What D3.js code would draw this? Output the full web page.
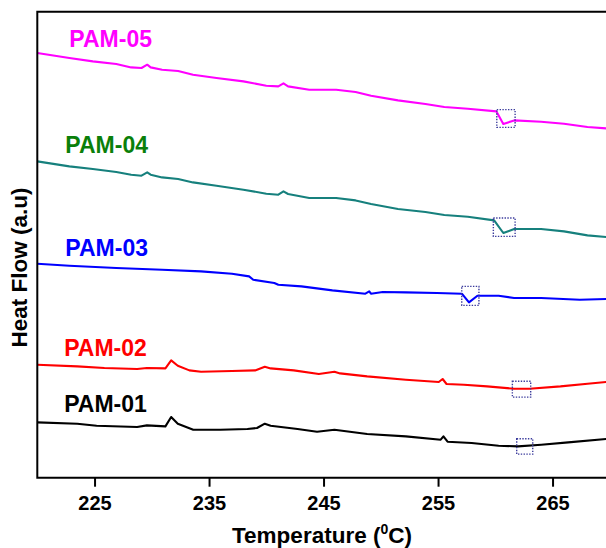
<!DOCTYPE html>
<html><head><meta charset="utf-8">
<script src="https://cdn.jsdelivr.net/npm/d3@7"></script>
<style>html,body{margin:0;padding:0;background:#fff;}svg{display:block;}</style>
</head><body><svg id="c" width="606" height="548"></svg>
<script>
// ---- data (Temperature °C, Heat Flow a.u.) ----
const xTicks = [225, 235, 245, 255, 265];
const seriesNames = ["PAM-01", "PAM-02", "PAM-03", "PAM-04", "PAM-05"];

const pam05T = [220.0,222.8,224.85,226.9,228.2,229.1,229.6,229.9,230.9,232.3,233.6,235.65,238.0,240.0,241.05,241.5,241.9,243.75,246.1,247.8,249.15,251.5,253.9,255.55,257.6,260.1,260.7,261.65,264.0,266.0,268.05,269.7,270];
const pam05V = [424.7,419.7,416.3,413.7,410.3,409.7,413,410.3,408,406.7,403,399.7,396.3,392,391.3,394.3,391.3,388,388,385.7,382,377.3,373.7,370.7,369,366.3,353.7,357.3,356,354,350.7,349.3,349];

const pam04T = [220.0,222.8,224.85,226.9,228.2,229.1,229.6,229.9,230.9,232.3,233.6,235.65,238.0,240.0,241.05,241.5,241.9,243.75,246.1,247.8,249.15,251.5,253.9,255.55,257.6,259.9,260.7,261.65,264.0,266.0,268.05,269.7,270];
const pam04V = [316.3,311.3,308.7,305.7,303,302,305.3,303,300.3,298.7,295.3,292,288,284,283,286.3,283.7,279.7,279.7,277.3,273.7,268.7,265.7,262.7,261,257.3,244.7,248.7,248.7,246.3,242.3,240.7,240.5];

const pam03T = [220.0,222.8,226.9,230.9,234.3,237.0,238.5,238.86,240.7,241.05,243.07,245.77,248.65,248.99,249.14,250.17,252.19,254.89,257.08,257.7,258.44,260.29,261.64,264.01,267.38,269.67,270];
const pam03V = [214,212,209.7,208,206.3,204,201.3,198,194.7,193,191.3,187.3,184,186.3,184,185.7,185.3,184.7,184,175.3,182,182,179.7,179.7,178,178.7,178.7];

const pam02T = [220.0,223.49,225.86,228.72,229.57,231.19,231.69,232.27,233.28,234.3,237.0,239.02,239.87,240.38,242.4,244.59,245.95,246.45,248.81,252.19,255.06,255.4,255.74,257.26,259.28,261.64,262.99,265.69,268.06,269.67,270];
const pam02V = [113,111.3,109.7,108.7,109.7,109.3,117.3,112,107.3,106,106.7,107.3,111,109.3,107.3,103.7,106,104.3,101.3,98,95.7,98.7,93.7,93,91.3,89,89,91.3,94,95.7,96];

const pam01T = [220.0,223.49,225.18,228.72,229.57,231.19,231.69,232.27,233.62,235.98,238.35,239.19,239.87,240.38,242.73,244.43,245.95,248.81,252.19,255.23,255.47,255.83,257.93,260.29,261.98,264.01,266.37,269.67,270];
const pam01V = [55.3,54,52,50.7,52.3,51.3,60.7,54,48,48,48.7,49.7,54,52,48.7,46,48,43.7,41.3,38,41.3,36,34.7,32,31.3,33,35.3,38.7,39];

// highlighted transition regions (centre T, centre value)
const boxT = [262.57, 262.29, 257.82, 260.78, 260.93];
const boxV = [31.3, 88.5, 181.8, 250.5, 359.2];

// ---- layout / style ----
const colors = ["#000000", "#ff0000", "#0000ff", "#16807d", "#ff00ff"];
const labelColors = ["#000000", "#ff0000", "#0000ff", "#0a7f0a", "#ff00ff"];
const labelT = [222.35, 222.35, 222.45, 222.45, 222.8];
const labelV = [65.3, 122, 221.3, 324.7, 430.3];
const boxHalfW = [0.7, 0.8, 0.75, 0.95, 0.8];
const boxHalfH = [7.7, 7.9, 9.5, 9.2, 8.9];

const allT = [pam01T, pam02T, pam03T, pam04T, pam05T];
const allV = [pam01V, pam02V, pam03V, pam04V, pam05V];

const svg = d3.select("#c");
const L = 37.3, R = 609.8, T0 = 11.7, B = 477.7;
const x = d3.scaleLinear().domain([220, 270]).range([L, R]);
const y = d3.scaleLinear().domain([0, 466]).range([B, T0]);
const font = "'Liberation Sans', Arial, sans-serif";

svg.append("defs").append("clipPath").attr("id", "clip")
  .append("rect").attr("x", L).attr("y", T0).attr("width", R - L).attr("height", B - T0);

const g = svg.append("g").attr("clip-path", "url(#clip)");
const line = d3.line().x(d => x(d[0])).y(d => y(d[1]));

allT.forEach((ts, i) => {
  const pts = ts.map((t, k) => [t, allV[i][k]]);
  g.append("path").datum(pts).attr("d", line)
    .attr("fill", "none").attr("stroke", colors[i]).attr("stroke-width", 2.1)
    .attr("stroke-linejoin", "round");
});

boxT.forEach((bt, i) => {
  g.append("rect")
    .attr("x", x(bt - boxHalfW[i])).attr("y", y(boxV[i] + boxHalfH[i]))
    .attr("width", x(bt + boxHalfW[i]) - x(bt - boxHalfW[i]))
    .attr("height", y(boxV[i] - boxHalfH[i]) - y(boxV[i] + boxHalfH[i]))
    .attr("fill", "none").attr("stroke", "#3b3b9c").attr("stroke-width", 1.4)
    .attr("stroke-dasharray", "1.4,1.4");
});

// frame
svg.append("path")
  .attr("d", `M${R},${T0}H${L}V${B}H${R}`)
  .attr("fill", "none").attr("stroke", "#000").attr("stroke-width", 2);

// x axis
const xa = svg.append("g").attr("transform", `translate(0,${B})`)
  .call(d3.axisBottom(x).tickValues(xTicks).tickSize(9).tickSizeOuter(0).tickFormat(d3.format("d")));
xa.select(".domain").remove();
xa.selectAll("line").attr("stroke", "#000").attr("stroke-width", 2);
xa.selectAll("text").attr("dy", null).attr("y", 32)
  .attr("font-family", font).attr("font-weight", "bold").attr("font-size", 20).attr("fill", "#000");

// axis titles
const xt = svg.append("text").attr("x", 322).attr("y", 543).attr("text-anchor", "middle")
  .attr("font-family", font).attr("font-weight", "bold").attr("font-size", 22.5).attr("fill", "#000");
xt.append("tspan").text("Temperature (");
xt.append("tspan").text("0").attr("font-size", 14).attr("dy", -9);
xt.append("tspan").text("C)").attr("dy", 9);

svg.append("text").attr("transform", "translate(27,267.5) rotate(-90)").attr("text-anchor", "middle")
  .attr("font-family", font).attr("font-weight", "bold").attr("font-size", 22.5).attr("fill", "#000")
  .text("Heat Flow (a.u)");

// series labels
seriesNames.forEach((n, i) => {
  svg.append("text").attr("x", x(labelT[i])).attr("y", y(labelV[i]))
    .attr("font-family", font).attr("font-weight", "bold").attr("font-size", 23)
    .attr("fill", labelColors[i]).text(n);
});
</script></body></html>
